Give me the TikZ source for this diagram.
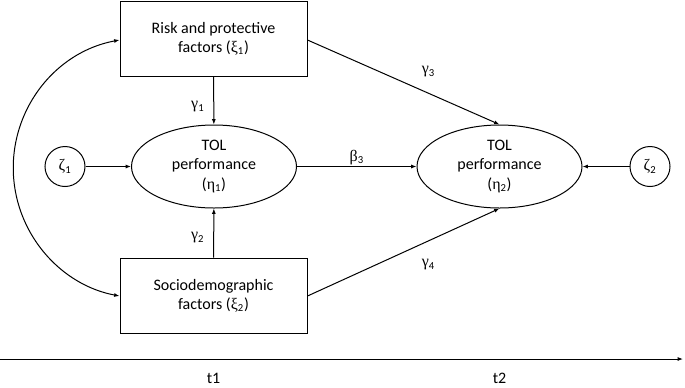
\documentclass[tikz,border=0pt]{standalone}
\usepackage{fontspec}
\setmainfont{Carlito}
\newfontfamily\grfont{Liberation Serif}
\usetikzlibrary{shapes.geometric,arrows.meta}
\newcommand{\gk}[2]{{\grfont #1}\textsubscript{#2}}
\begin{document}
\begin{tikzpicture}[x=0.75pt,y=-0.75pt,
  every node/.style={font=\fontsize{12}{14.3}\selectfont},
  boxnode/.style={draw,line width=0.75pt,minimum width=140.25pt,minimum height=56.25pt,inner sep=0pt,align=center},
  ellnode/.style={draw,ellipse,line width=0.75pt,minimum width=123.75pt,minimum height=62.25pt,inner sep=0pt,align=center},
  errnode/.style={draw,circle,line width=0.75pt,minimum size=30pt,inner sep=0pt},
  conn/.style={line width=0.75pt,-{Latex[length=4pt,width=3pt]}},
  biconn/.style={line width=0.75pt,{Latex[length=4pt,width=3pt]}-{Latex[length=4pt,width=3pt]}},
  lab/.style={inner sep=0pt,anchor=center}]
\useasboundingbox (0,0) rectangle (685,387);
\node[boxnode] (xi1) at (213.5,38.5) {Risk and protective\\factors (\gk{ξ}{1})};
\node[boxnode] (xi2) at (213.5,295.5) {Sociodemographic\\factors (\gk{ξ}{2})};
\node[ellnode] (eta1) at (214,166.5) {TOL\\performance\\(\gk{η}{1})};
\node[ellnode] (eta2) at (499.5,166.5) {TOL\\performance\\(\gk{η}{2})};
\node[errnode] (z1) at (65,166.5) {\gk{ζ}{1}};
\node[errnode] (z2) at (650,166.5) {\gk{ζ}{2}};
\coordinate (ts) at (0,359);
\coordinate (te) at (683,359);
\draw[conn] (xi1) -- (eta1) node[lab,pos=0.63,xshift=-12pt] {\gk{γ}{1}};
\draw[conn] (xi2) -- (eta1) node[lab,pos=0.4,xshift=-12pt] {\gk{γ}{2}};
\draw[conn] (z1) -- (eta1);
\draw[conn] (z2) -- (eta2);
\draw[conn] (eta1) -- (eta2) node[lab,midway,yshift=7pt] {\gk{β}{3}};
\draw[conn] (xi1.east |- 0,40) -- (eta2.north) node[lab,pos=0.63,yshift=16pt] {\gk{γ}{3}};
\draw[conn] (xi2.east |- 0,296) -- (eta2.south) node[lab,pos=0.63,yshift=-18pt] {\gk{γ}{4}};
\draw[biconn] (xi1.west |- 0,40) arc[start angle=100.62, end angle=259.38, radius=97.67pt];
\draw[conn] (ts) -- (te);
\node[inner sep=0pt] (t1) at (213.5,378.5) {t1};
\node[inner sep=0pt] (t2) at (499.5,378.5) {t2};
\end{tikzpicture}
\end{document}
